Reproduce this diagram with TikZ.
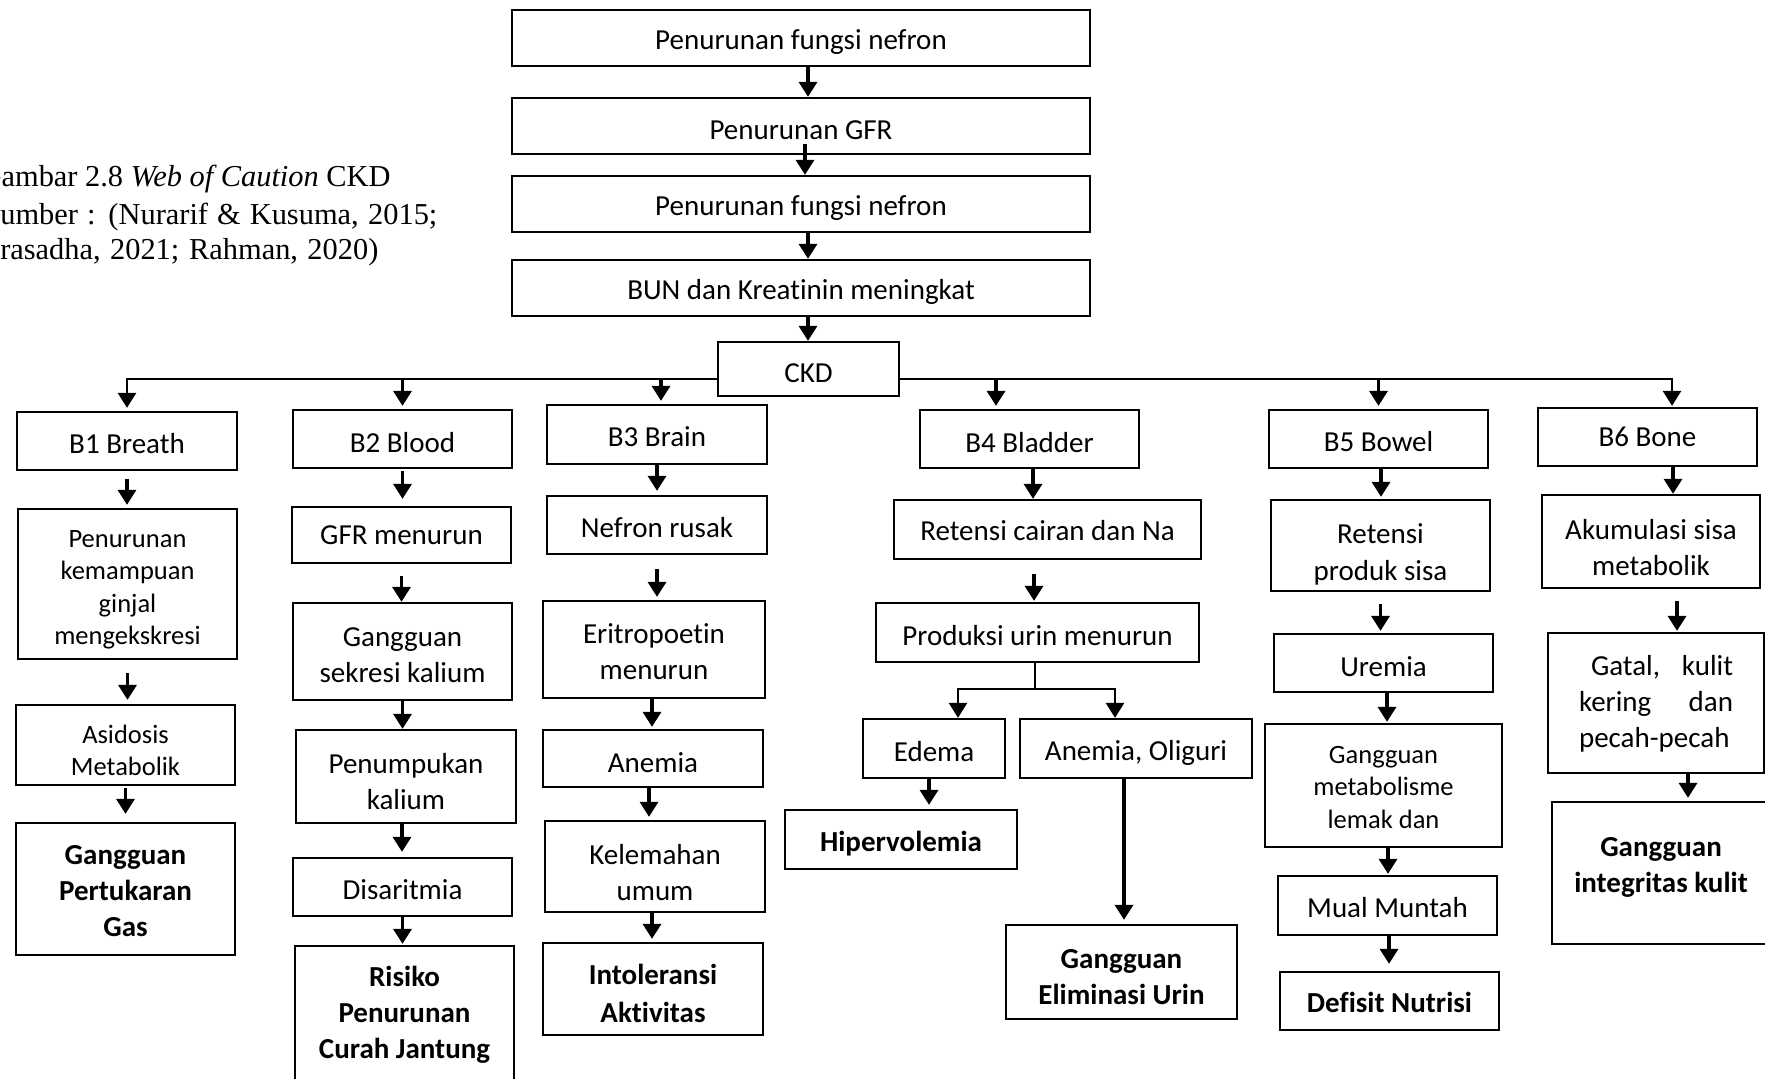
\documentclass[tikz,border=0pt]{standalone}
\usepackage{fontspec}
\setmainfont{Carlito}[RawFeature={-liga}]
\newfontfamily\capfont{Liberation Serif}
\usetikzlibrary{arrows.meta}
\newcommand{\linkdown}[5][0pt]{\draw[arr,shorten <=#4,shorten >=#5] ([xshift=#1]#2.south) -- ([xshift=#1]#2.south |- #3.north);}
% [text shift]{text style}{name}{position}{width}{height}{text}
\newcommand{\bx}[7][-1.4pt]{%
  \node[frame, minimum width=#5, minimum height=#6] (#3) at (#4) {};
  \node[#2] (#3t) at ([yshift=#1]#3.center) {#7};}
\begin{document}
\begin{tikzpicture}[x=0.5pt,y=-0.5pt,
  frame/.style={draw, line width=1.15pt, fill=white, inner sep=0pt},
  ntxt/.style={inner sep=0pt, align=center, font=\fontsize{14.5}{18}\selectfont},
  stxt/.style={inner sep=0pt, align=center, font=\fontsize{13.25}{16.25}\selectfont},
  btxt/.style={inner sep=0pt, align=center, font=\fontsize{14.5}{18}\selectfont\bfseries},
  line/.style={line width=1.4pt},
  arr/.style={line width=1.7pt, -{Triangle[width=9pt,length=7.5pt]}},
  captxt/.style={inner sep=0pt, font=\capfont\fontsize{15.2}{18}\selectfont}]
\useasboundingbox (0,0) rectangle (1765,1079);

% caption
\node[captxt, anchor=base east] (cap1) at (391,187) {Gambar 2.8 \textit{Web of Caution} CKD};
\node[captxt, anchor=base west] (cap2) at (-17,225) {\makebox[227pt][s]{Sumber : (Nurarif \& Kusuma, 2015;}};
\node[captxt, anchor=base west] (cap3) at (-17,260) {\makebox[197.5pt][s]{Prasadha, 2021; Rahman, 2020)}};

% top chain
\bx[-2pt]{ntxt}{t1}{801,38}{289pt}{28pt}{Penurunan fungsi nefron}
\bx[-2pt]{ntxt}{t2}{801,126}{289pt}{28pt}{Penurunan GFR}
\bx[-2pt]{ntxt}{t3}{801,204}{289pt}{28pt}{Penurunan fungsi nefron}
\bx[-2pt]{ntxt}{t4}{801,288}{289pt}{28pt}{BUN dan Kreatinin meningkat}
\bx[-2.25pt]{ntxt}{ckd}{808.5,369}{90.5pt}{27pt}{CKD}

% B1
\bx[-1.4pt]{ntxt}{b1}{127,441}{110pt}{29pt}{B1 Breath}
\bx[-2.8pt]{stxt}{b1a}{127.5,584}{109.5pt}{75pt}{Penurunan\\kemampuan\\ginjal\\mengekskresi}
\bx[-2.8pt]{stxt}{b1b}{125.5,745}{109.5pt}{40pt}{Asidosis\\Metabolik}
\bx[-1.1pt]{btxt}{b1c}{125.5,889}{109.5pt}{66pt}{Gangguan\\Pertukaran\\Gas}

% B2
\bx[-1.7pt]{ntxt}{b2}{402.5,439}{109.5pt}{29pt}{B2 Blood}
\bx[0pt]{ntxt}{b2a}{401.5,535}{109.5pt}{28pt}{GFR menurun}
\bx[-2pt]{ntxt}{b2b}{402.5,651.5}{109.5pt}{48.5pt}{Gangguan\\sekresi kalium}
\bx[-2.5pt]{ntxt}{b2c}{406,776.5}{110pt}{46.5pt}{Penumpukan\\kalium}
\bx[-1.1pt]{ntxt}{b2d}{402.5,887}{109.5pt}{29pt}{Disaritmia}
\bx[-0.5pt]{btxt}{b2e}{404.5,1014}{109.5pt}{68pt}{Risiko\\Penurunan\\Curah Jantung}

% B3
\bx[-1.1pt]{ntxt}{b3}{657,434.5}{110pt}{29.5pt}{B3 Brain}
\bx[-1.1pt]{ntxt}{b3a}{657,525}{110pt}{29pt}{Nefron rusak}
\bx[-1.1pt]{ntxt}{b3b}{654,649.5}{111pt}{48.5pt}{Eritropoetin\\menurun}
\bx[-2.2pt]{ntxt}{b3c}{653,758.5}{110pt}{28.5pt}{Anemia}
\bx[-2.8pt]{ntxt}{b3d}{655,866.5}{110pt}{45.5pt}{Kelemahan\\umum}
\bx[-2.2pt]{btxt}{b3e}{653,989}{110pt}{46pt}{Intoleransi\\[1pt]Aktivitas}

% B4
\bx[-1.7pt]{ntxt}{b4}{1029.5,439}{109.5pt}{29pt}{B4 Bladder}
\bx[-0.6pt]{ntxt}{b4a}{1047.5,529.5}{153.5pt}{29.5pt}{Retensi cairan dan Na}
\bx[-1.7pt]{ntxt}{b4b}{1037.5,632.5}{161.5pt}{29.5pt}{Produksi urin menurun}
\bx[-1.7pt]{ntxt}{b4c}{934,748.5}{71pt}{29.5pt}{Edema}
\bx[-2.2pt]{ntxt}{b4d}{1136,748.5}{116pt}{29.5pt}{Anemia, Oliguri}
\bx[-2.2pt]{btxt}{b4e}{901,839.5}{116pt}{29.5pt}{Hipervolemia}
\bx[-2.5pt]{btxt}{b4f}{1121.5,972}{115.5pt}{47pt}{Gangguan\\Eliminasi Urin}

% B5
\bx[-1.1pt]{ntxt}{b5}{1378.5,439}{109.5pt}{29pt}{B5 Bowel}
\bx[-4.5pt]{ntxt}{b5a}{1380.5,545.5}{109.5pt}{45.5pt}{Retensi\\[0.5pt]produk sisa}
\bx[-1.7pt]{ntxt}{b5b}{1383.5,663}{109.5pt}{29pt}{Uremia}
\bx[-0.8pt]{stxt}{b5c}{1383.5,785.5}{118.5pt}{61.5pt}{Gangguan\\metabolisme\\lemak dan}
\bx[-1.1pt]{ntxt}{b5d}{1387.5,905.5}{109.5pt}{29.5pt}{Mual Muntah}
\bx[-0.5pt]{btxt}{b5e}{1389.5,1001}{109.5pt}{29pt}{Defisit Nutrisi}

% B6
\bx[0pt]{ntxt}{b6}{1647.5,437}{109.5pt}{29pt}{B6 Bone}
\bx[-2.8pt]{ntxt}{b6a}{1651,541.5}{109pt}{46.5pt}{Akumulasi sisa\\metabolik}
\node[frame, minimum width=108pt, minimum height=70pt] (b6b) at (1656,703) {};
\node[ntxt, align=left] (b6bt) at ([yshift=-0.5pt]b6b.center) {\hspace*{6pt}\makebox[71pt][l]{Gatal,\hfill kulit}\\\makebox[77pt][l]{kering\hfill dan}\\pecah-pecah};
\bx[3pt]{btxt}{b6c}{1661,873}{109pt}{71pt}{Gangguan\\integritas kulit}

% connectors: top chain
\linkdown[3.5pt]{t1}{t2}{0pt}{0pt}
\linkdown[2pt]{t2}{t3}{-5.5pt}{0pt}
\linkdown[3.5pt]{t3}{t4}{0pt}{0pt}
\linkdown[3.5pt]{t4}{ckd}{0pt}{0pt}

% bus
\coordinate (bus) at (808.5,379);
\draw[arr, line width=1.4pt, shorten >=1.5pt] (ckd.west |- bus) -| (b1.north);
\draw[arr, line width=1.4pt, shorten >=0.5pt] (ckd.east |- bus) -| ([xshift=12.25pt]b6.north);
\draw[arr, shorten >=1.5pt] (b2.north |- bus) -- (b2.north);
\draw[arr, shorten >=1.5pt] ([xshift=2pt]b3.north |- bus) -- ([xshift=2pt]b3.north);
\draw[arr, shorten >=1.5pt] ([xshift=-16.75pt]b4.north |- bus) -- ([xshift=-16.75pt]b4.north);
\draw[arr, shorten >=1.5pt] (b5.north |- bus) -- (b5.north);

% B1 column
\linkdown{b1}{b1a}{4pt}{1.5pt}
\linkdown{b1a}{b1b}{6.5pt}{2pt}
\linkdown{b1b}{b1c}{1pt}{4pt}
% B2 column
\linkdown{b2}{b2a}{1pt}{3.5pt}
\linkdown{b2a}{b2b}{6pt}{0pt}
\linkdown{b2b}{b2c}{0pt}{0pt}
\linkdown[-2pt]{b2c}{b2d}{0pt}{2.5pt}
\linkdown{b2d}{b2e}{0pt}{0.5pt}
% B3 column
\linkdown{b3}{b3a}{0pt}{2pt}
\linkdown{b3a}{b3b}{7pt}{1.5pt}
\linkdown[-1pt]{b3b}{b3c}{0pt}{1pt}
\linkdown[-2pt]{b3c}{b3d}{0pt}{1.5pt}
\linkdown[-1.5pt]{b3d}{b3e}{0pt}{1.5pt}
% B4 column
\linkdown[1.75pt]{b4}{b4a}{0pt}{0pt}
\linkdown[-6.75pt]{b4a}{b4b}{7pt}{0.5pt}
\coordinate (fork) at (1035,689);
\draw[line] (b4b.south -| fork) -- (fork);
\draw[arr, line width=1.4pt] (fork) -| ([xshift=12pt]b4c.north);
\draw[arr, line width=1.4pt] (fork) -| ([xshift=-10.5pt]b4d.north);
\linkdown[-2.5pt]{b4c}{b4e}{0pt}{2pt}
\linkdown[-6pt]{b4d}{b4f}{0pt}{2pt}
% B5 column
\linkdown[1.25pt]{b5}{b5a}{0pt}{1pt}
\linkdown{b5a}{b5b}{6pt}{1pt}
\linkdown[1.75pt]{b5b}{b5c}{0pt}{0.5pt}
\linkdown[2.25pt]{b5c}{b5d}{0pt}{0.5pt}
\linkdown[0.75pt]{b5d}{b5e}{0pt}{3.5pt}
% B6 column
\linkdown[12.75pt]{b6}{b6a}{0pt}{0pt}
\linkdown[13pt]{b6a}{b6b}{6pt}{0.5pt}
\linkdown[16pt]{b6b}{b6c}{0pt}{1.5pt}
\end{tikzpicture}
\end{document}
